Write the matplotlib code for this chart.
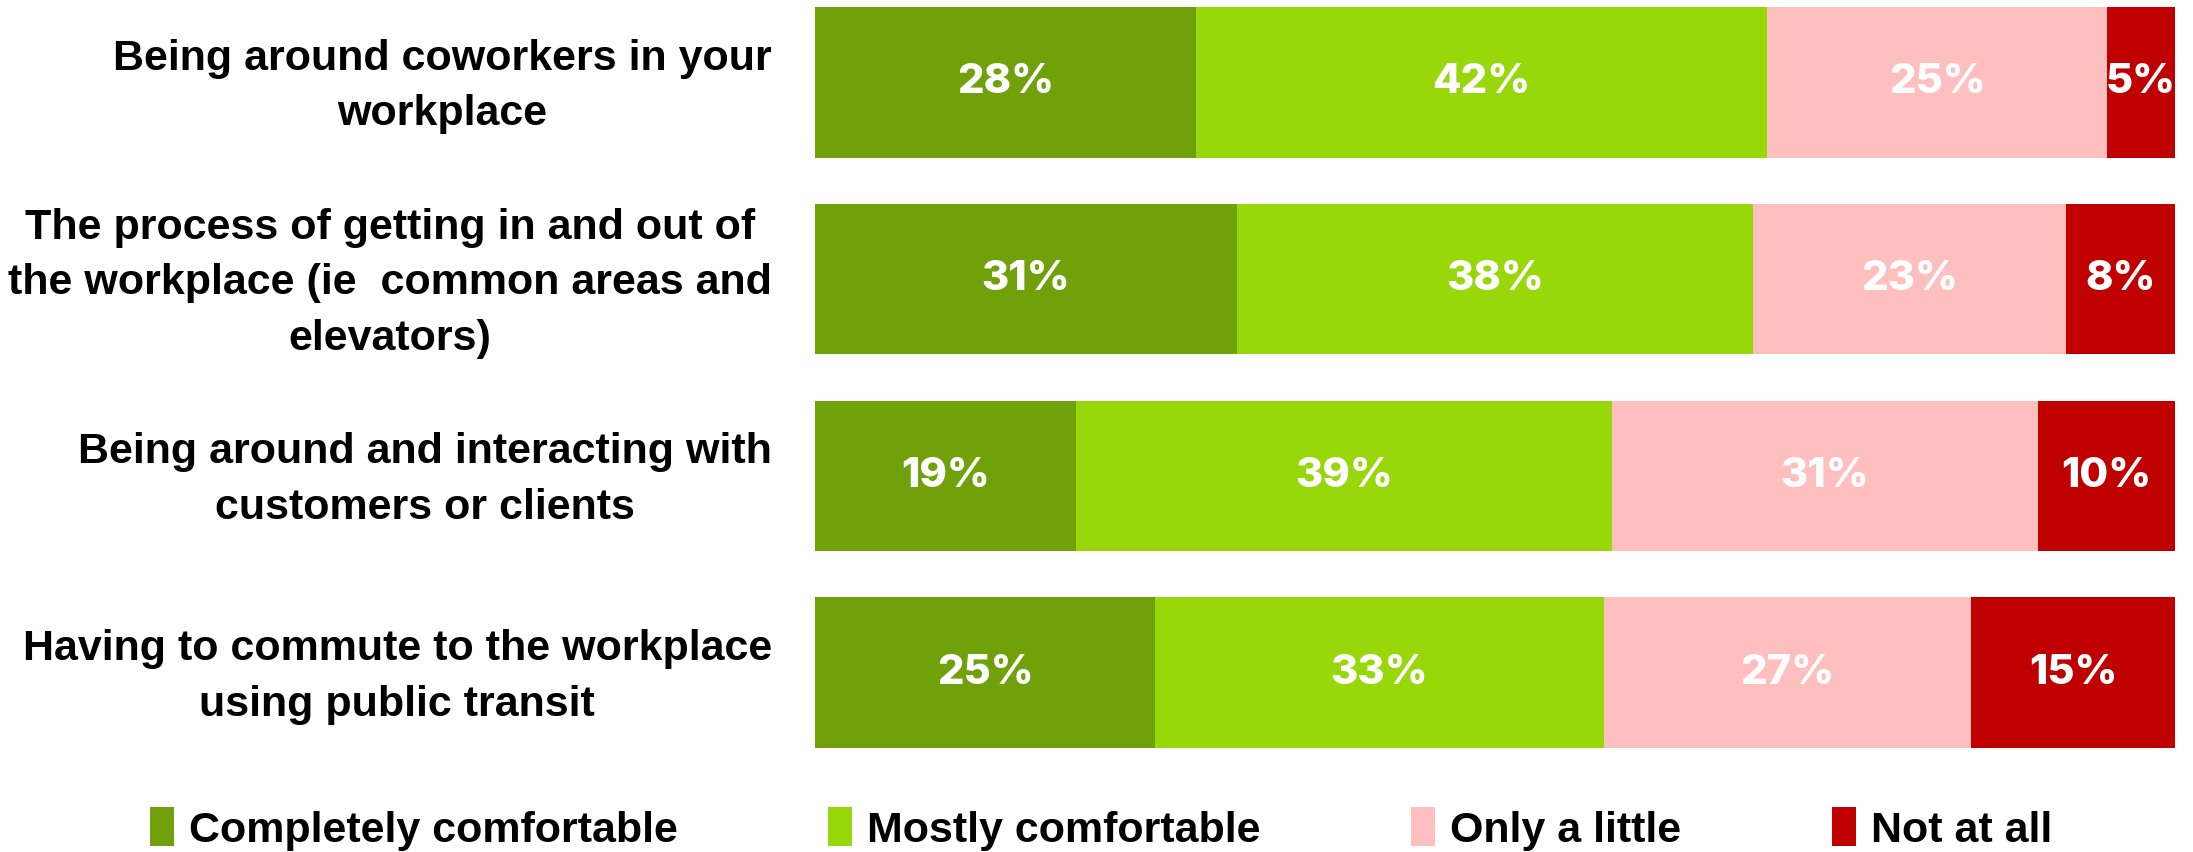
import matplotlib.pyplot as plt
import matplotlib.transforms as mtransforms
from matplotlib.patches import Patch
import numpy as np

categories = [
    "Being around coworkers in your\nworkplace",
    "The process of getting in and out of\nthe workplace (ie  common areas and\nelevators)",
    "Being around and interacting with\ncustomers or clients",
    "Having to commute to the workplace\nusing public transit",
]
series = ["Completely comfortable", "Mostly comfortable", "Only a little", "Not at all"]
completely = [28, 31, 19, 25]
mostly = [42, 38, 39, 33]
little = [25, 23, 31, 27]
not_at_all = [5, 8, 10, 15]
colors = ["#70A00A", "#98D80A", "#FFBFBF", "#C00000"]

values = np.array([completely, mostly, little, not_at_all], dtype=float)
# 100% stacked: scale each row so it fills the bar
shares = values / values.sum(axis=0) * 100

fig = plt.figure(figsize=(21.93, 8.52), dpi=100)
ax = fig.add_axes([815 / 2193, 1 - 748 / 852, 1360 / 2193, 741 / 852])

y = np.arange(len(categories))
left = np.zeros(len(categories))
for i in range(len(series)):
    ax.barh(y, shares[i], left=left, height=0.766, color=colors[i], edgecolor='none')
    for j in range(len(categories)):
        ax.text(left[j] + shares[i][j] / 2, y[j], f"{int(values[i][j])}%",
                ha='center', va='center', color='white', fontsize=30,
                fontweight='heavy', family=['Inter', 'DejaVu Sans'])
    left += shares[i]

ax.set_xlim(0, 100)
ax.set_ylim(3.383, -0.383)
ax.set_yticks(y)
ax.set_yticklabels(categories, fontsize=31, fontweight='bold',
                   family=['Liberation Sans', 'DejaVu Sans'], linespacing=1.5)
ax.tick_params(axis='y', length=0, pad=31)
# nudge labels up a little so they sit centred on the bars
shift = mtransforms.ScaledTranslation(0, 0.08, fig.dpi_scale_trans)
for lab in ax.get_yticklabels():
    lab.set_multialignment('center')
    lab.set_transform(lab.get_transform() + shift)
ax.set_xticks([])
for s in ax.spines.values():
    s.set_visible(False)

handles = [Patch(facecolor=c, edgecolor='none') for c in colors]
fig.legend(handles, series, loc='center left', bbox_to_anchor=(150 / 2193, 1 - 829 / 852),
           ncol=4, frameon=False, borderpad=0, borderaxespad=0,
           handlelength=0.55, handleheight=1.0, handletextpad=0.35,
           columnspacing=3.5, prop={'family': ['Liberation Sans', 'DejaVu Sans'],
                                    'weight': 'bold', 'size': 31})

fig.savefig("out.png", dpi=100)
